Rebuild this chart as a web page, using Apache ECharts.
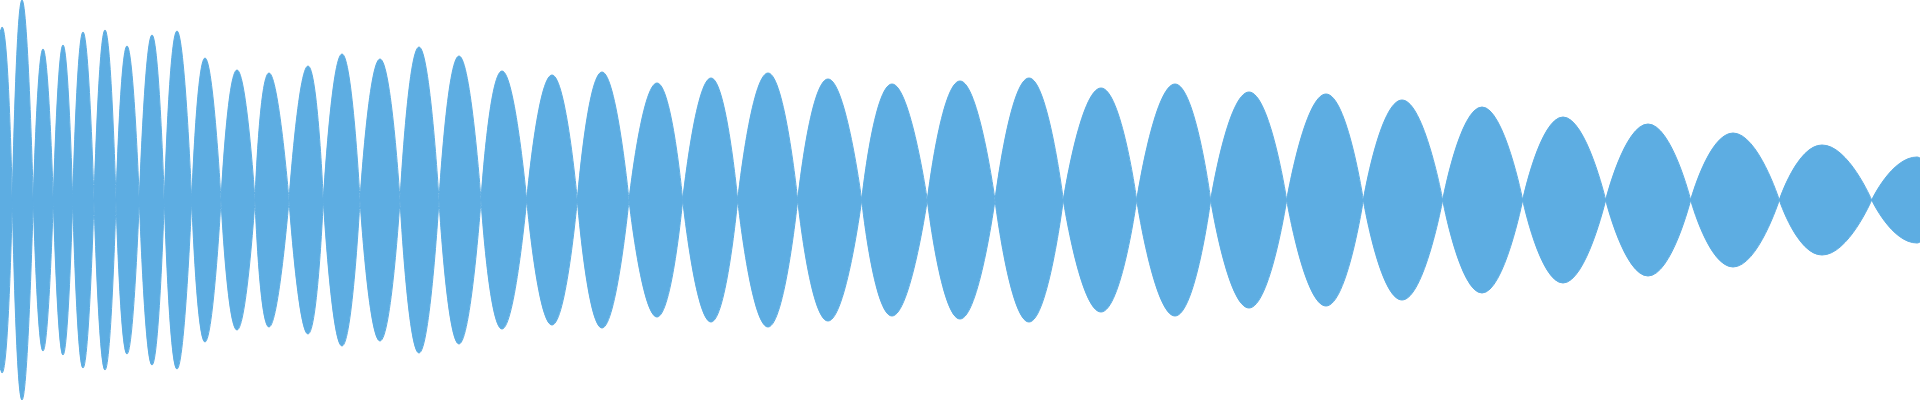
<!DOCTYPE html>
<html>
<head>
<meta charset="utf-8">
<script src="https://cdn.jsdelivr.net/npm/echarts@6/dist/echarts.min.js"></script>
<style>html,body{margin:0;padding:0;background:#fff}#c{width:1920px;height:400px}</style>
</head>
<body>
<div id="c"></div>
<script>
// Sample index (0..1920) where each lobe of the envelope starts and ends
var lobeStarts = [0, 12.3, 33.3, 53.3, 72.7, 94, 116, 139.3, 164.3, 191.7, 221, 255, 289, 323.3, 360, 400, 439, 481, 526.7, 577.3, 629, 682.7, 737.7, 797.7, 861.7, 927.3, 995, 1063.3, 1136.7, 1210.7, 1286.7, 1363.3, 1442.7, 1522.7, 1605.7, 1690.7, 1779.3, 1871.7];
var lobeEnds = [12.3, 33.3, 53.3, 72.7, 94, 116, 139.3, 164.3, 191.7, 221, 255, 289, 323.3, 360, 400, 439, 481, 526.7, 577.3, 629, 682.7, 737.7, 797.7, 861.7, 927.3, 995, 1063.3, 1136.7, 1210.7, 1286.7, 1363.3, 1442.7, 1522.7, 1605.7, 1690.7, 1779.3, 1871.7, 1920];
// Envelope value at the start / end of each lobe (0 at zero crossings)
var startValues = [0.84, 0, 0, 0, 0, 0, 0, 0, 0, 0, 0, 0, 0, 0, 0, 0, 0, 0, 0, 0, 0, 0, 0, 0, 0, 0, 0, 0, 0, 0, 0, 0, 0, 0, 0, 0, 0, 0];
var endValues = [0, 0, 0, 0, 0, 0, 0, 0, 0, 0, 0, 0, 0, 0, 0, 0, 0, 0, 0, 0, 0, 0, 0, 0, 0, 0, 0, 0, 0, 0, 0, 0, 0, 0, 0, 0, 0, 0.21];
// Peak position and normalized peak amplitude of each lobe
var peakPositions = [2, 22, 43, 63, 83, 105, 127, 152, 177, 205, 237, 269, 308, 342, 380, 419, 459, 502, 552, 602, 657, 711, 768, 828, 892, 960, 1029, 1101, 1175, 1249, 1326, 1402, 1482, 1563, 1648, 1733, 1822, 1917];
var peakAmplitudes = [0.865, 1.0, 0.755, 0.775, 0.84, 0.85, 0.77, 0.825, 0.845, 0.71, 0.65, 0.635, 0.67, 0.73, 0.705, 0.765, 0.72, 0.645, 0.625, 0.64, 0.585, 0.61, 0.635, 0.605, 0.58, 0.595, 0.61, 0.56, 0.58, 0.54, 0.53, 0.5, 0.465, 0.415, 0.38, 0.335, 0.275, 0.215];

var COLOR = '#5DADE2';

function buildEnvelope(sign) {
  var out = [];
  for (var i = 0; i < lobeStarts.length; i++) {
    out.push([lobeStarts[i], sign * startValues[i]]);
    out.push([peakPositions[i], sign * peakAmplitudes[i]]);
    out.push([lobeEnds[i], sign * endValues[i]]);
    if (i < lobeStarts.length - 1) out.push([lobeEnds[i], '-']);
  }
  return out;
}

var chart = echarts.init(document.getElementById('c'), null, {renderer: 'canvas'});
var seriesBase = {
  type: 'line',
  smooth: 0.55,
  showSymbol: false,
  symbol: 'none',
  connectNulls: false,
  lineStyle: {color: COLOR, width: 1},
  areaStyle: {color: COLOR, opacity: 1},
  itemStyle: {color: COLOR},
  silent: true
};
chart.setOption({
  animation: false,
  backgroundColor: '#ffffff',
  grid: {left: 0, right: 0, top: 0, bottom: 0},
  xAxis: {type: 'value', min: 0, max: 1920, show: false},
  yAxis: {type: 'value', min: -1, max: 1, show: false},
  series: [
    Object.assign({}, seriesBase, {name: 'upper', data: buildEnvelope(1)}),
    Object.assign({}, seriesBase, {name: 'lower', data: buildEnvelope(-1)})
  ]
});
</script>
</body>
</html>
